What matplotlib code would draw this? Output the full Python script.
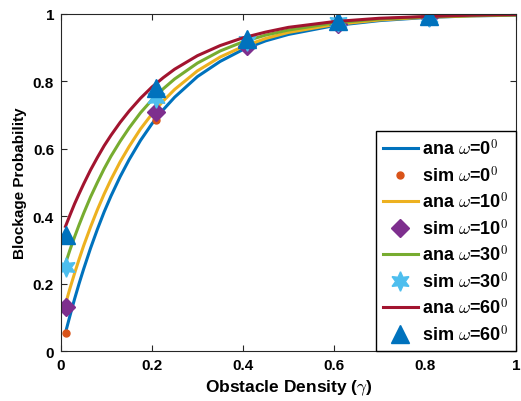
import matplotlib
matplotlib.use("Agg")
import matplotlib.pyplot as plt

plt.rcParams['font.family'] = ['Liberation Sans', 'DejaVu Sans']
plt.rcParams['font.weight'] = 'bold'
plt.rcParams['mathtext.fontset'] = 'cm'

# analytical curves
x_ana = [0.01, 0.02, 0.03, 0.04, 0.05, 0.065, 0.08, 0.095, 0.11, 0.13, 0.15, 0.175,
         0.2, 0.225, 0.25, 0.3, 0.35, 0.4, 0.45, 0.5, 0.6, 0.7, 0.8, 0.9, 1.0]
ana_0 = [0.055, 0.106, 0.155, 0.201, 0.244, 0.305, 0.361, 0.413, 0.460, 0.517,
         0.568, 0.625, 0.674, 0.716, 0.753, 0.814, 0.859, 0.894, 0.920, 0.939,
         0.965, 0.980, 0.989, 0.994, 0.996]
ana_10 = [0.140, 0.187, 0.231, 0.273, 0.313, 0.368, 0.419, 0.466, 0.509, 0.561,
          0.607, 0.659, 0.703, 0.742, 0.776, 0.831, 0.872, 0.903, 0.927, 0.945,
          0.968, 0.982, 0.990, 0.994, 0.997]
ana_30 = [0.260, 0.301, 0.339, 0.375, 0.409, 0.457, 0.500, 0.541, 0.578, 0.622,
          0.662, 0.707, 0.745, 0.778, 0.807, 0.854, 0.890, 0.917, 0.937, 0.952,
          0.973, 0.985, 0.991, 0.995, 0.997]
ana_60 = [0.370, 0.404, 0.437, 0.467, 0.496, 0.537, 0.574, 0.609, 0.640, 0.678,
          0.712, 0.750, 0.783, 0.811, 0.836, 0.876, 0.906, 0.929, 0.946, 0.960,
          0.977, 0.987, 0.992, 0.996, 0.998]

# simulation points
x_sim = [0.01, 0.21, 0.41, 0.61, 0.81]
sim_0 = [0.055, 0.685, 0.900, 0.965, 0.990]
sim_10 = [0.130, 0.710, 0.905, 0.970, 0.990]
sim_30 = [0.250, 0.750, 0.920, 0.975, 0.992]
sim_60 = [0.345, 0.780, 0.925, 0.980, 0.995]

ticks = [0, 0.2, 0.4, 0.6, 0.8, 1]
tick_labels = ['0', '0.2', '0.4', '0.6', '0.8', '1']

fig = plt.figure(figsize=(5.21, 4.02), dpi=100)
ax = fig.add_axes([0.117, 0.124, 0.873, 0.839])

ax.plot(x_ana, ana_0, color='#0072BD', lw=2.2, label=r'ana $\omega$=0$^\mathbf{0}$')
ax.plot(x_sim, sim_0, 'o', color='#D95319', ms=5, label=r'sim $\omega$=0$^\mathbf{0}$')
ax.plot(x_ana, ana_10, color='#EDB120', lw=2.2, label=r'ana $\omega$=10$^\mathbf{0}$')
ax.plot(x_sim, sim_10, 'D', color='#7E2F8E', ms=9, label=r'sim $\omega$=10$^\mathbf{0}$')
ax.plot(x_ana, ana_30, color='#77AC30', lw=2.2, label=r'ana $\omega$=30$^\mathbf{0}$')
ax.plot(x_sim, sim_30, marker=(6, 1, 0), ls='none', color='#4DBEEE', ms=14,
        label=r'sim $\omega$=30$^\mathbf{0}$')
ax.plot(x_ana, ana_60, color='#A2142F', lw=2.2, label=r'ana $\omega$=60$^\mathbf{0}$')
ax.plot(x_sim, sim_60, '^', color='#0072BD', ms=13, label=r'sim $\omega$=60$^\mathbf{0}$')

ax.set_xlim(0, 1)
ax.set_ylim(0, 1)
ax.set_xticks(ticks)
ax.set_xticklabels(tick_labels)
ax.set_yticks(ticks)
ax.set_yticklabels(tick_labels)
ax.tick_params(direction='in', top=True, right=True, labelsize=11, length=4,
               color='#262626', pad=5)
for s in ax.spines.values():
    s.set_color('#262626')
    s.set_linewidth(0.8)

ax.set_xlabel(r'Obstacle Density ($\gamma$)', fontsize=12.5, fontweight='bold')
ax.set_ylabel('Blockage Probability', fontsize=11, fontweight='bold')

leg = ax.legend(loc='lower right', borderaxespad=0, fontsize=13, fancybox=False,
                edgecolor='black', framealpha=1, handlelength=1.9, labelspacing=0.33,
                handletextpad=0.25, borderpad=0.4)
leg.get_frame().set_linewidth(1.0)

fig.savefig('out.png', dpi=100)
